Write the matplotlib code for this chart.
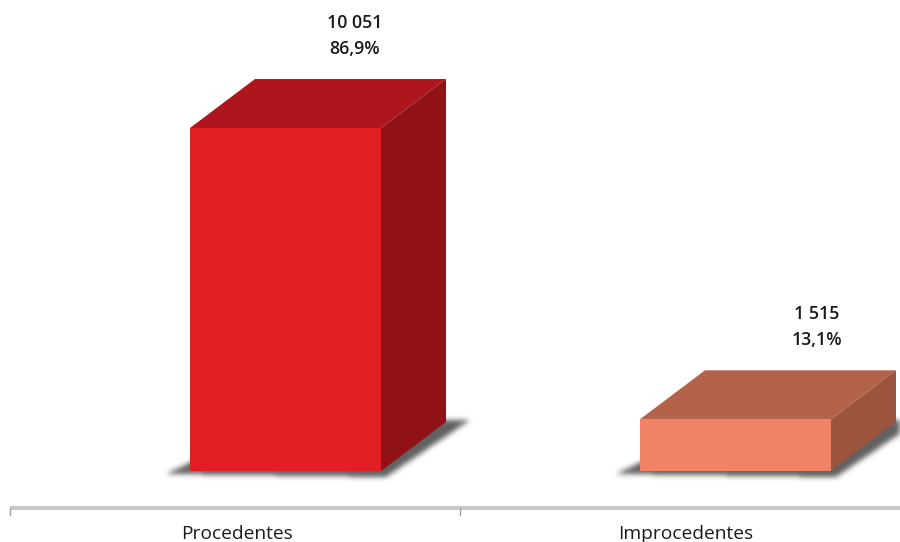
import numpy as np
import matplotlib
matplotlib.use("Agg")
import matplotlib.pyplot as plt
from matplotlib.patches import Polygon
from matplotlib.path import Path

categories = ["Procedentes", "Improcedentes"]
values = [10051, 1515]
value_labels = ["10 051", "1 515"]
pct_labels = ["86,9%", "13,1%"]

front_colors = ["#e11e24", "#f08366"]
top_colors = ["#ad161c", "#b4634a"]
side_colors = ["#911216", "#9b543d"]

plt.rcParams["font.family"] = ["Open Sans", "DejaVu Sans"]

W, H = 900, 542
fig = plt.figure(figsize=(W / 100, H / 100), dpi=100)
ax = fig.add_axes([0, 0, 1, 1])

# pixel-per-unit scales for the layout
px_per_val = 343 / 10051.0
px_per_cat = 450.0
base_px = 71  # baseline height above figure bottom
ylim = (-base_px / px_per_val, (H - base_px) / px_per_val)
xlim = (-235 / px_per_cat, (W - 235) / px_per_cat)
ax.set_ylim(*ylim)
ax.set_xlim(*xlim)

def px_x(p):
    return p / px_per_cat

def px_y(p):
    return p / px_per_val

left_off = px_x(-45)
bar_w = px_x(191)
dx = px_x(65)
dy = px_y(49)

# soft floor shadows: rasterise the footprints, blur, then draw beneath the boxes
shadow_polys = []
for i, v in enumerate(values):
    x0 = i + left_off
    x1 = x0 + bar_w
    shadow_polys.append([
        (x0 - px_x(24), px_y(-3)),
        (x1 + px_x(5), px_y(-6)),
        (x1 + dx + px_x(24), dy + px_y(2)),
        (x0 + dx + px_x(20), dy),
    ])

fig.canvas.draw()
gx, gy = np.meshgrid(np.arange(W) + 0.5, np.arange(H) + 0.5)
pts = np.column_stack([gx.ravel(), gy.ravel()])
mask = np.zeros(W * H)
for poly in shadow_polys:
    disp = ax.transData.transform(poly)
    mask = np.maximum(mask, Path(disp).contains_points(pts).astype(float))
mask = mask.reshape(H, W)

sigma = 2.6
r = np.arange(-9, 10)
kern = np.exp(-r ** 2 / (2 * sigma ** 2))
kern /= kern.sum()
blur = np.apply_along_axis(lambda m: np.convolve(m, kern, mode="same"), 1, mask)
blur = np.apply_along_axis(lambda m: np.convolve(m, kern, mode="same"), 0, blur)

rgba = np.zeros((H, W, 4))
rgba[..., :3] = 0.22
rgba[..., 3] = 0.8 * blur
ax.imshow(rgba, origin="lower", extent=(*xlim, *ylim), aspect="auto",
          interpolation="bilinear", zorder=1)

for i, v in enumerate(values):
    x0 = i + left_off
    x1 = x0 + bar_w
    # top face
    ax.add_patch(Polygon([(x0, v), (x1, v), (x1 + dx, v + dy), (x0 + dx, v + dy)],
                         closed=True, facecolor=top_colors[i], edgecolor="none", zorder=3))
    # side face
    ax.add_patch(Polygon([(x1, 0), (x1 + dx, dy), (x1 + dx, v + dy), (x1, v)],
                         closed=True, facecolor=side_colors[i], edgecolor="none", zorder=3))
    # front face
    ax.bar(x0, v, width=bar_w, align="edge", color=front_colors[i], zorder=4, linewidth=0)

# value labels above each bar
label_dx = [px_x(120), px_x(132)]
for i, v in enumerate(values):
    xc = i + label_dx[i]
    ytop = v + dy
    ax.text(xc, ytop + px_y(56), value_labels[i], ha="center", va="center",
            fontsize=12.8, fontweight="semibold", color="#1a1a1a")
    ax.text(xc, ytop + px_y(30), pct_labels[i], ha="center", va="center",
            fontsize=12.8, fontweight="semibold", color="#1a1a1a")

# category axis
axis_y = px_y(-37)
ax.plot([-0.5, 1.6], [axis_y, axis_y], color="#c8c8c8", lw=3, solid_capstyle="butt", zorder=2)
for t in [-0.5, 0.5]:
    ax.plot([t, t], [axis_y, axis_y - px_y(7)], color="#a0a0a0", lw=1, zorder=2)
label_shift = [px_x(2), px_x(1)]
for i, c in enumerate(categories):
    ax.text(i + label_shift[i], px_y(-68), c, ha="center", va="baseline",
            fontsize=13.8, color="#1a1a1a")

ax.axis("off")
fig.savefig("out.png", dpi=100)
